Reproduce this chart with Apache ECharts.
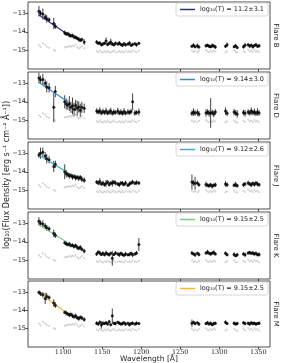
<!DOCTYPE html>
<html><head><meta charset="utf-8">
<script src="https://cdn.jsdelivr.net/npm/echarts@6/dist/echarts.min.js"></script>
<style>html,body{margin:0;padding:0;background:#fff}#c{width:281px;height:363px}</style>
</head><body><div id="c"></div>
<script>
// ---------- DATA ----------
const wavelengths = [
  1069, 1071, 1074, 1077, 1079, 1082, 1088, 1090,
  1102, 1104, 1106, 1108, 1110, 1112, 1114, 1116, 1118, 1120, 1122, 1124, 1127,
  1143, 1145, 1147, 1149, 1151, 1153, 1155, 1157, 1159, 1161, 1163, 1165, 1167, 1170, 1172, 1174, 1176, 1178, 1180, 1183, 1185, 1187, 1189, 1192, 1194, 1197,
  1265, 1267, 1269, 1272, 1274, 1283, 1285, 1287, 1289, 1291, 1293, 1295, 1308, 1310, 1319, 1321, 1323, 1331, 1333, 1337, 1339, 1341, 1343, 1345, 1347, 1349, 1351
];
const quiescentFlux = [
  -14.72, -14.82, -14.62, -14.70, -14.80, -14.86, -14.98, -15.02,
  -14.85, -14.80, -14.82, -14.76, -14.80, -14.74, -14.78, -14.70, -14.82, -14.90, -14.84, -14.78, -14.88,
  -15.05, -15.10, -15.00, -15.08, -15.12, -15.05, -15.10, -15.02, -15.08, -15.12, -15.06, -15.00, -15.10, -15.08, -15.04, -15.10, -15.06, -15.12, -15.02, -15.08, -15.05, -15.10, -15.00, -15.06, -15.10, -15.02,
  -15.00, -15.08, -15.04, -15.10, -15.02, -14.98, -15.06, -15.10, -15.02, -15.08, -15.00, -15.06, -15.10, -15.04, -15.00, -15.08, -15.12, -15.02, -15.08, -14.96, -15.04, -15.00, -15.08, -14.98, -15.06, -15.02, -15.10
];

const fluxB = [
  -12.90, -13.00, -13.05, -13.20, -13.30, -13.35, -13.55, -13.70,
  -14.05, -14.12, -14.10, -14.18, -14.22, -14.20, -14.28, -14.30, -14.35, -14.40, -14.45, -14.42, -14.55,
  -14.55, -14.62, -14.60, -14.70, -14.65, -14.62, -14.50, -14.68, -14.62, -14.55, -14.65, -14.70, -14.62, -14.66, -14.60, -14.68, -14.72, -14.64, -14.70, -14.66, -14.60, -14.72, -14.68, -14.64, -14.70, -14.62,
  -14.78, -14.72, -14.80, -14.75, -14.82, -14.75, -14.72, -14.78, -14.80, -14.74, -14.76, -14.82, -14.78, -14.70, -14.80, -14.75, -14.85, -14.80, -14.72, -14.70, -14.76, -14.72, -14.80, -14.74, -14.70, -14.78, -14.75
];
const errB = [
  0.28, 0.15, 0.30, 0.15, 0.20, 0.12, 0.30, 0.15,
  0.12, 0.10, 0.10, 0.12, 0.10, 0.10, 0.12, 0.10, 0.10, 0.12, 0.10, 0.10, 0.15,
  0.10, 0.08, 0.10, 0.08, 0.10, 0.08, 0.20, 0.10, 0.08, 0.18, 0.10, 0.08, 0.10, 0.08, 0.10, 0.08, 0.10, 0.08, 0.10, 0.08, 0.10, 0.08, 0.10, 0.08, 0.10, 0.08,
  0.08, 0.10, 0.08, 0.12, 0.08, 0.10, 0.08, 0.10, 0.08, 0.12, 0.08, 0.10, 0.08, 0.12, 0.08, 0.10, 0.08, 0.10, 0.12, 0.08, 0.10, 0.08, 0.10, 0.08, 0.10, 0.08, 0.10
];

const fluxD = [
  -12.72, -12.82, -12.80, -13.00, -13.20, -13.25, -14.30, -13.45,
  -14.00, -14.12, -14.18, -14.10, -14.30, -14.22, -14.40, -14.20, -14.35, -14.28, -14.45, -14.30, -14.35,
  -14.50, -14.55, -14.48, -14.60, -14.52, -14.58, -14.50, -14.60, -14.55, -14.50, -14.62, -14.55, -14.58, -14.50, -14.60, -14.55, -14.62, -14.52, -14.60, -14.55, -14.58, -14.52, -14.00, -14.60, -14.58, -14.55,
  -14.62, -14.55, -14.60, -14.58, -14.65, -14.60, -14.55, -14.62, -14.60, -14.58, -14.65, -14.55, -14.50, -14.62, -14.55, -14.60, -14.65, -14.58, -14.62, -14.55, -14.60, -14.50, -14.58, -14.55, -14.62, -14.55, -14.60
];
const errD = [
  0.28, 0.22, 0.30, 0.20, 0.30, 0.25, 0.80, 0.30,
  0.35, 0.30, 0.25, 0.40, 0.30, 0.45, 0.35, 0.30, 0.40, 0.30, 0.35, 0.30, 0.25,
  0.15, 0.12, 0.18, 0.12, 0.15, 0.12, 0.18, 0.12, 0.15, 0.18, 0.12, 0.15, 0.12, 0.18, 0.12, 0.15, 0.12, 0.18, 0.12, 0.15, 0.12, 0.15, 0.45, 0.15, 0.12, 0.18,
  0.15, 0.20, 0.15, 0.18, 0.15, 0.20, 0.15, 0.18, 0.80, 0.15, 0.18, 0.15, 0.20, 0.15, 0.18, 0.15, 0.20, 0.15, 0.18, 0.15, 0.15, 0.20, 0.15, 0.18, 0.15, 0.20, 0.15
];

const fluxJ = [
  -13.10, -13.00, -12.95, -13.15, -13.30, -13.35, -13.72, -13.60,
  -14.00, -14.10, -14.15, -14.22, -14.20, -14.28, -14.25, -14.32, -14.30, -14.35, -14.30, -14.40, -14.45,
  -14.55, -14.60, -14.52, -14.65, -14.60, -14.70, -14.62, -14.55, -14.68, -14.60, -14.62, -14.55, -14.60, -14.65, -14.70, -14.60, -14.62, -14.68, -14.60, -14.72, -14.65, -14.60, -14.55, -14.62, -14.58, -14.60,
  -14.55, -14.60, -14.62, -14.60, -14.70, -14.68, -14.72, -14.75, -14.70, -14.78, -14.72, -14.70, -14.65, -14.70, -14.72, -14.68, -14.75, -14.70, -14.65, -14.60, -14.65, -14.70, -14.62, -14.68, -14.60, -14.65, -14.70
];
const errJ = [
  0.15, 0.30, 0.25, 0.20, 0.25, 0.20, 0.30, 0.20,
  0.40, 0.20, 0.15, 0.15, 0.12, 0.15, 0.12, 0.15, 0.12, 0.15, 0.12, 0.15, 0.15,
  0.10, 0.12, 0.18, 0.10, 0.12, 0.10, 0.18, 0.10, 0.12, 0.10, 0.18, 0.10, 0.12, 0.10, 0.12, 0.10, 0.12, 0.10, 0.12, 0.10, 0.12, 0.10, 0.12, 0.10, 0.12, 0.10,
  0.40, 0.15, 0.35, 0.12, 0.10, 0.15, 0.10, 0.12, 0.10, 0.12, 0.10, 0.12, 0.15, 0.12, 0.10, 0.15, 0.10, 0.12, 0.10, 0.12, 0.10, 0.12, 0.10, 0.12, 0.10, 0.12, 0.10
];

const fluxK = [
  -12.90, -13.00, -13.05, -13.15, -13.25, -13.30, -13.55, -13.65,
  -14.05, -14.10, -14.15, -14.12, -14.20, -14.18, -14.25, -14.20, -14.30, -14.35, -14.30, -14.40, -14.50,
  -14.65, -14.55, -14.60, -14.68, -14.62, -14.70, -14.60, -14.65, -14.70, -14.62, -14.88, -14.68, -14.60, -14.65, -14.70, -14.62, -14.68, -14.72, -14.65, -14.70, -14.68, -14.62, -14.70, -14.65, -14.60, -14.15,
  -14.60, -14.65, -14.70, -14.62, -14.68, -14.60, -14.55, -14.62, -14.65, -14.60, -14.58, -14.65, -14.62, -14.70, -14.68, -14.75, -14.70, -14.65, -14.70, -14.60, -14.58, -14.62, -14.60, -14.65, -14.62, -14.70, -14.68
];
const errK = [
  0.22, 0.15, 0.20, 0.15, 0.15, 0.12, 0.20, 0.15,
  0.10, 0.12, 0.10, 0.12, 0.10, 0.10, 0.12, 0.10, 0.12, 0.10, 0.12, 0.10, 0.12,
  0.10, 0.08, 0.12, 0.08, 0.10, 0.08, 0.12, 0.08, 0.10, 0.08, 0.40, 0.08, 0.10, 0.08, 0.12, 0.08, 0.10, 0.08, 0.12, 0.08, 0.10, 0.08, 0.12, 0.08, 0.10, 0.35,
  0.10, 0.08, 0.12, 0.08, 0.10, 0.08, 0.12, 0.08, 0.10, 0.08, 0.12, 0.08, 0.10, 0.08, 0.12, 0.08, 0.10, 0.08, 0.12, 0.08, 0.10, 0.08, 0.12, 0.08, 0.10, 0.08, 0.12
];

const fluxM = [
  -13.02, -13.10, -13.15, -13.35, -13.25, -13.30, -13.60, -13.72,
  -14.10, -14.15, -14.20, -14.25, -14.22, -14.30, -14.35, -14.30, -14.40, -14.45, -14.38, -14.42, -14.50,
  -14.70, -14.75, -14.65, -14.80, -14.70, -14.72, -14.68, -14.75, -14.62, -14.78, -14.30, -14.70, -14.72, -14.65, -14.70, -14.75, -14.72, -14.68, -14.75, -14.70, -14.78, -14.72, -14.70, -14.75, -14.70, -14.72,
  -14.70, -14.65, -14.72, -14.68, -14.75, -14.72, -14.68, -14.75, -14.70, -14.78, -14.72, -14.70, -14.65, -14.72, -14.70, -14.75, -14.72, -14.68, -14.72, -14.70, -14.75, -14.68, -14.72, -14.70, -14.75, -14.72, -14.70
];
const errM = [
  0.10, 0.12, 0.15, 0.30, 0.20, 0.12, 0.20, 0.15,
  0.10, 0.12, 0.10, 0.12, 0.10, 0.12, 0.10, 0.12, 0.10, 0.12, 0.10, 0.12, 0.12,
  0.10, 0.08, 0.10, 0.20, 0.10, 0.08, 0.10, 0.08, 0.10, 0.08, 0.40, 0.08, 0.10, 0.08, 0.10, 0.08, 0.10, 0.08, 0.10, 0.08, 0.10, 0.08, 0.10, 0.08, 0.10, 0.08,
  0.20, 0.08, 0.10, 0.08, 0.10, 0.08, 0.10, 0.08, 0.10, 0.08, 0.10, 0.08, 0.10, 0.08, 0.10, 0.08, 0.10, 0.08, 0.10, 0.08, 0.10, 0.08, 0.10, 0.08, 0.10, 0.08, 0.10
];

const fitB = [[1069, -13.10], [1106, -14.15]];
const fitD = [[1069, -12.97], [1106, -14.00]];
const fitJ = [[1069, -13.10], [1104, -14.00]];
const fitK = [[1069, -13.10], [1104, -14.00]];
const fitM = [[1069, -13.05], [1104, -14.12]];

const flareNames = ['Flare B', 'Flare D', 'Flare J', 'Flare K', 'Flare M'];
const fitLabels = ['log₁₀(T) = 11.2±3.1', 'log₁₀(T) = 9.14±3.0', 'log₁₀(T) = 9.12±2.6', 'log₁₀(T) = 9.15±2.5', 'log₁₀(T) = 9.15±2.5'];
const xTicks = [1100, 1150, 1200, 1250, 1300, 1350];
const yTicks = [-15, -14, -13];
const xLabel = 'Wavelength [Å]';
const yLabel = 'log₁₀(Flux Density [erg s⁻¹ cm⁻² Å⁻¹])';

// ---------- STYLE / LAYOUT ----------
const fluxes = [fluxB, fluxD, fluxJ, fluxK, fluxM];
const errs = [errB, errD, errJ, errK, errM];
const fits = [fitB, fitD, fitJ, fitK, fitM];
const fitColors = ['#2e2e9a', '#2f87dc', '#2bb7cc', '#7cc98a', '#f2b44c'];
const tops = [2, 72, 142, 212, 281];
const heights = [67, 67, 67, 67, 66];
const font = 'DejaVu Sans';

const grid = tops.map((t, i) => ({left: 28, right: 11, top: t, height: heights[i], show: true,
  borderColor: '#222', borderWidth: 0.8, backgroundColor: '#fff'}));
const xAxis = tops.map((t, i) => ({
  gridIndex: i, type: 'value', min: 1055, max: 1365,
  axisLine: {show: false}, splitLine: {show: false},
  axisTick: {show: true, length: 2.5, customValues: xTicks, lineStyle: {color: '#222', width: 0.8}},
  axisLabel: {show: i === 4, customValues: xTicks, fontSize: 6.5, fontFamily: 'DejaVu Serif', color: '#222', margin: 1.5,
    formatter: v => String(v)}
}));
const yAxis = tops.map((t, i) => ({
  gridIndex: i, type: 'value', min: -16, max: -12.4,
  axisLine: {show: false}, splitLine: {show: false},
  axisTick: {show: true, length: 2.5, customValues: yTicks, lineStyle: {color: '#222', width: 0.8}},
  axisLabel: {show: true, customValues: yTicks, fontSize: 6.5, fontFamily: font, color: '#222', margin: 2,
    formatter: v => String(v).replace('-', '\u2212')}
}));

const series = [];
tops.forEach((t, i) => {
  series.push({
    type: 'scatter', xAxisIndex: i, yAxisIndex: i, z: 1, silent: true,
    symbolSize: 2, itemStyle: {color: '#c4c4c4'},
    data: wavelengths.map((w, k) => [w, quiescentFlux[k]])
  });
  series.push({
    type: 'custom', xAxisIndex: i, yAxisIndex: i, z: 2, silent: true, clip: true,
    data: wavelengths.map((w, k) => [w, fluxes[i][k], errs[i][k]]),
    encode: {x: 0, y: 1},
    renderItem: (params, api) => {
      const x = api.value(0), y = api.value(1), e = api.value(2);
      const p1 = api.coord([x, y - e]), p2 = api.coord([x, y + e]);
      return {type: 'line', shape: {x1: p1[0], y1: p1[1], x2: p2[0], y2: p2[1]},
        style: {stroke: '#111', lineWidth: 0.8}};
    }
  });
  series.push({
    type: 'line', name: fitLabels[i], xAxisIndex: i, yAxisIndex: i, z: 3, silent: true,
    showSymbol: false, symbol: 'none', lineStyle: {color: fitColors[i], width: 1.2},
    itemStyle: {color: fitColors[i]}, data: fits[i]
  });
  series.push({
    type: 'scatter', xAxisIndex: i, yAxisIndex: i, z: 4, silent: true,
    symbolSize: 3, itemStyle: {color: '#000'},
    data: wavelengths.map((w, k) => [w, fluxes[i][k]])
  });
});

const legend = tops.map((t, i) => ({
  data: [{name: fitLabels[i], itemStyle: {color: fitColors[i]}, lineStyle: {color: fitColors[i]}}],
  right: 13, top: t + 1, icon: 'rect', itemWidth: 15, itemHeight: 1.5, itemGap: 4,
  padding: [3, 4, 3, 4], borderColor: '#cccccc', borderWidth: 0.8, borderRadius: 2,
  backgroundColor: '#fff', selectedMode: false,
  textStyle: {fontSize: 6.5, color: '#222', fontFamily: font, padding: [0, 0, 0, 0]}
}));

const graphic = flareNames.map((n, i) => ({
  type: 'text', x: 276, y: tops[i] + heights[i] / 2, rotation: -Math.PI / 2,
  style: {text: n, fontSize: 7, fill: '#222', fontFamily: font, align: 'center', verticalAlign: 'middle'}
}));
graphic.push({type: 'text', x: 7, y: 175, rotation: Math.PI / 2,
  style: {text: yLabel, fontSize: 8, fill: '#222', fontFamily: font, align: 'center', verticalAlign: 'middle'}});
graphic.push({type: 'text', x: 149, y: 359.5,
  style: {text: xLabel, fontSize: 7.5, fill: '#222', fontFamily: font, align: 'center', verticalAlign: 'middle'}});

const chart = echarts.init(document.getElementById('c'), null, {renderer: 'canvas'});
chart.setOption({animation: false, backgroundColor: '#fff', grid, xAxis, yAxis, series, legend, graphic});
</script>
</body></html>
